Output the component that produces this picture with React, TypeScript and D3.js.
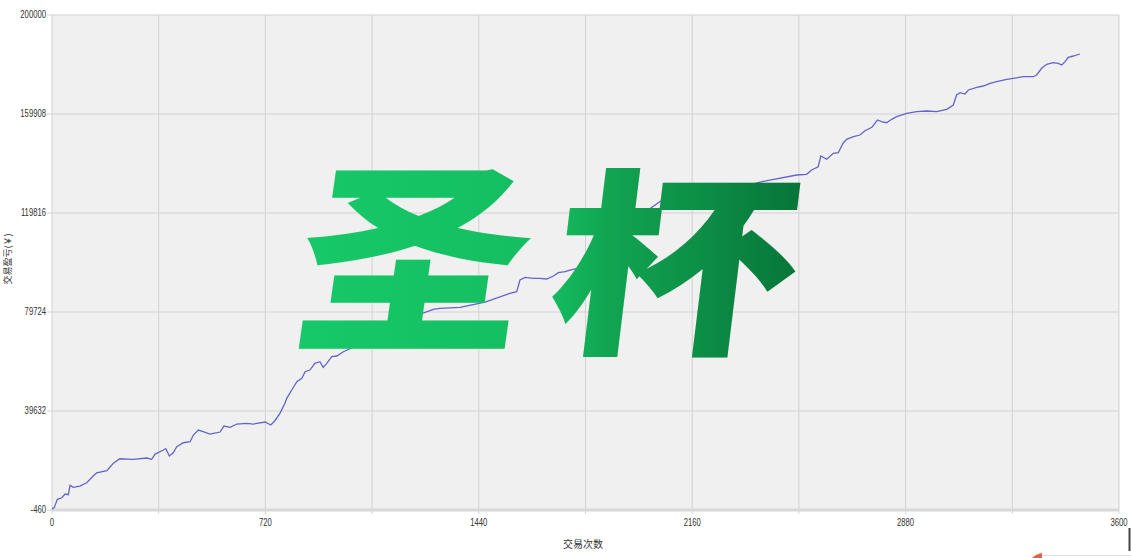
import React from "react";
import * as d3 from "d3";

const tradeIndex = [0, 8, 18, 33, 44, 55, 61, 72, 94, 117, 139, 151, 185, 207, 229, 274, 320, 336, 348, 376, 384, 396, 409, 421, 443, 466, 477, 494, 510, 533, 567, 580, 601, 623, 657, 679, 719, 738, 752, 769, 786, 792, 809, 826, 843, 854, 870, 887, 904, 915, 927, 944, 961, 983, 1056, 1140, 1225, 1286, 1309, 1377, 1461, 1545, 1568, 1579, 1596, 1624, 1646, 1669, 1692, 1708, 1731, 1742, 1775, 1810, 1866, 1933, 2001, 2068, 2079, 2186, 2288, 2389, 2513, 2546, 2563, 2585, 2594, 2614, 2636, 2653, 2670, 2681, 2704, 2726, 2743, 2766, 2785, 2799, 2816, 2833, 2850, 2884, 2917, 2951, 2985, 3019, 3041, 3052, 3064, 3080, 3092, 3120, 3142, 3165, 3187, 3221, 3243, 3277, 3311, 3322, 3339, 3356, 3378, 3395, 3407, 3418, 3429, 3446, 3468];

const equity = [0, 600, 3860, 4500, 6000, 5720, 9530, 8720, 9245, 10580, 13300, 14630, 15440, 18440, 20300, 20060, 20585, 20060, 22200, 23825, 24350, 21400, 22730, 25160, 26780, 27190, 29900, 31925, 31240, 30300, 31115, 33545, 33020, 34355, 34640, 34355, 35165, 33950, 35690, 38690, 42740, 44760, 48125, 51490, 52860, 55540, 56225, 58940, 59590, 57320, 58940, 61610, 61900, 63640, 67565, 72425, 78095, 80810, 81215, 81620, 83765, 87290, 87940, 92675, 93770, 93365, 93365, 93080, 94295, 95630, 96040, 96440, 97535, 99440, 104825, 112115, 120215, 125760, 125075, 127100, 129125, 132365, 135200, 135480, 137225, 138560, 142895, 141560, 143990, 144230, 148280, 149660, 150710, 151400, 153140, 154520, 157475, 156790, 156380, 157760, 158810, 160190, 160840, 161120, 160840, 161810, 163550, 167600, 168530, 168000, 169625, 170720, 171245, 172340, 172990, 173960, 174365, 175010, 175010, 175700, 178415, 180035, 180680, 180440, 179750, 181090, 182870, 183395, 184205];

const yTicks = [-460, 39632, 79724, 119816, 159908, 200000];
const xTicks = [0, 720, 1440, 2160, 2880, 3600];
const xGrid = [360, 720, 1080, 1440, 1800, 2160, 2520, 2880, 3240, 3600];
const xTitle = "交易次数";
const yTitle = "交易盈亏(￥)";
const watermark = ["圣", "杯"];

export default function App() {
  const W = 1131, H = 558;
  const left = 52, right = 1119, top = 15, bottom = 510;
  const x = d3.scaleLinear().domain([0, 3600]).range([left, right]);
  const y = d3.scaleLinear().domain([-460, 200000]).range([bottom, top]);
  const pts: [number, number][] = tradeIndex.map((t, i) => [t, equity[i]]);
  const line = d3.line<[number, number]>().x(d => x(d[0])).y(d => y(d[1]));
  const tickFont = "'Liberation Sans', Arial, sans-serif";

  return (
    <div style={{ position: "absolute", left: 0, top: 0, width: W, height: H, background: "#fff" }}>
      <svg width={W} height={H} style={{ display: "block" }}>
        <defs>
          <linearGradient id="wm" gradientUnits="userSpaceOnUse" x1={295} y1={0} x2={800} y2={0}>
            <stop offset="0" stopColor="#17c968" />
            <stop offset="0.5" stopColor="#14bd60" />
            <stop offset="0.62" stopColor="#11a552" />
            <stop offset="1" stopColor="#077538" />
          </linearGradient>
          <mask id="wmMask" maskUnits="userSpaceOnUse" x={0} y={0} width={W} height={H}>
            <g fill="#fff" fontFamily="'Noto Sans CJK SC', sans-serif" fontWeight={900} fontSize={205}>
              <text transform="translate(403,337) skewX(-8) scale(1.12,1)" textAnchor="middle">{watermark[0]}</text>
              <text transform="translate(667,338) skewX(-7) scale(1.2,0.97)" textAnchor="middle">{watermark[1]}</text>
            </g>
          </mask>
        </defs>
        <rect x={left} y={top} width={right - left} height={bottom - top} fill="#f0f0f0" />
        {yTicks.map(v => (
          <g key={"y" + v}>
            <line x1={left - 5} x2={right} y1={y(v)} y2={y(v)} stroke="#d2d2d2" strokeWidth={1} />
            <text x={left - 6} y={y(v) + 3.5} textAnchor="end" fontFamily={tickFont} fontSize={11}
              fill="#333" transform={`translate(${left - 6},0) scale(0.7,1) translate(${-(left - 6)},0)`}>{v}</text>
          </g>
        ))}
        {xGrid.map(v => (
          <line key={"xg" + v} x1={x(v)} x2={x(v)} y1={top} y2={bottom + 4} stroke="#d2d2d2" strokeWidth={1} />
        ))}
        <line x1={left} x2={left} y1={top} y2={bottom + 4} stroke="#d2d2d2" strokeWidth={1} />
        <line x1={left} x2={right} y1={bottom} y2={bottom} stroke="#d8d8d8" strokeWidth={3} />
        {xTicks.map(v => (
          <text key={"xt" + v} x={x(v)} y={bottom + 16} textAnchor="middle" fontFamily={tickFont} fontSize={11}
            fill="#333" transform={`translate(${x(v)},0) scale(0.7,1) translate(${-x(v)},0)`}>{v}</text>
        ))}
        <path d={line(pts) || ""} fill="none" stroke="#6464c8" strokeWidth={1.3} />
        <text x={583} y={548} textAnchor="middle" fontFamily="'Noto Sans CJK SC', sans-serif" fontSize={10} fill="#333">{xTitle}</text>
        <text transform="translate(11,259) rotate(-90)" textAnchor="middle" fontFamily="'Noto Sans CJK SC', sans-serif" fontSize={9} fill="#333">{yTitle}</text>
        <rect x={270} y={140} width={560} height={240} fill="url(#wm)" mask="url(#wmMask)" />
        <line x1={1129.5} x2={1129.5} y1={528} y2={551} stroke="#444" strokeWidth={2} />
        <line x1={1040} x2={1131} y1={555.5} y2={555.5} stroke="#ddd" strokeWidth={1} />
        <path d="M1032,558 Q1036,554 1042,553 L1042,558 Z" fill="#e8603a" />
      </svg>
    </div>
  );
}
